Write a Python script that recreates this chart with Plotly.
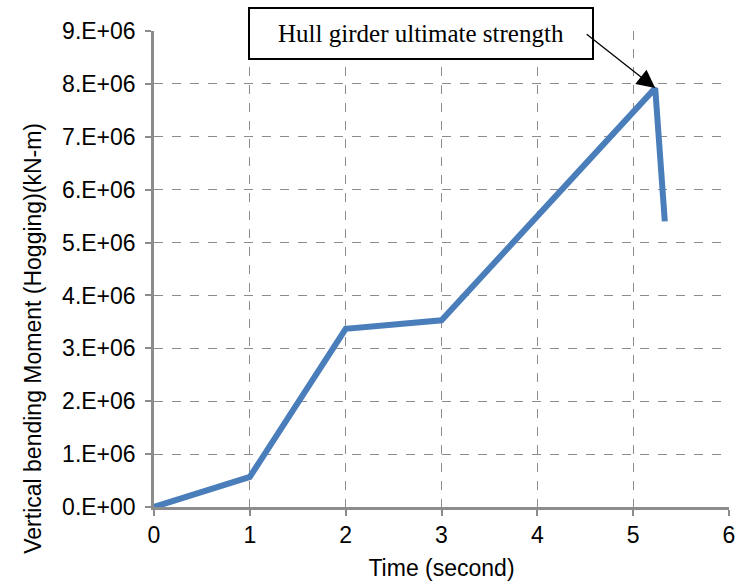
import plotly.graph_objects as go

# Hull girder response over time
time_s = [0.0, 1.0, 2.0, 3.0, 5.23, 5.33]
moment_knm = [0.0, 0.57e6, 3.37e6, 3.53e6, 7.92e6, 5.40e6]

x_ticks = [0, 1, 2, 3, 4, 5, 6]
y_ticks = [0, 1e6, 2e6, 3e6, 4e6, 5e6, 6e6, 7e6, 8e6, 9e6]
y_tick_text = ["0.E+00", "1.E+06", "2.E+06", "3.E+06", "4.E+06",
               "5.E+06", "6.E+06", "7.E+06", "8.E+06", "9.E+06"]

peak_label = "Hull girder ultimate strength"
y_title = "Vertical bending Moment (Hogging)(kN-m)"
peak_idx = 4

fig = go.Figure()
fig.add_trace(go.Scatter(
    x=time_s, y=moment_knm, mode="lines",
    line=dict(color="#4a7ebb", width=6),
    showlegend=False,
))

# Callout box
fig.add_annotation(
    x=0.464, y=0.994, xref="paper", yref="paper",
    text=peak_label, showarrow=False,
    font=dict(family="Liberation Serif", size=25, color="black"),
    bordercolor="black", borderwidth=2, borderpad=0, bgcolor="white",
    width=342, height=49,
    xanchor="center", yanchor="middle",
)
# Leader arrow from the box to the peak
fig.add_annotation(
    x=time_s[peak_idx], y=moment_knm[peak_idx], xref="x", yref="y",
    text="", showarrow=True,
    arrowhead=2, arrowsize=2.8, arrowwidth=1.3, arrowcolor="black",
    ax=-70, ay=-55, standoff=0,
)

# Vertical axis title, set a little below the axis midpoint
fig.add_annotation(
    x=-0.21, y=0.354, xref="paper", yref="paper",
    text=y_title, textangle=-90, showarrow=False,
    font=dict(family="Liberation Sans", size=23, color="black"),
    xanchor="center", yanchor="middle",
)

grid = dict(showgrid=True, gridcolor="#8c8c8c", griddash="dash", gridwidth=1.3)
axis_line = dict(showline=True, linecolor="#8c8c8c", linewidth=2.5,
                 ticks="outside", ticklen=6, tickcolor="#8c8c8c", tickwidth=2,
                 zeroline=False)

fig.update_xaxes(
    range=[0, 6], tickvals=x_ticks, **grid, **axis_line,
    tickfont=dict(family="Liberation Sans", size=23, color="black"),
    title=dict(text="Time (second)", standoff=13,
               font=dict(family="Liberation Sans", size=23, color="black")),
)
fig.update_yaxes(
    range=[0, 9e6], tickvals=y_ticks, ticktext=y_tick_text, **grid, **axis_line,
    ticklabelstandoff=5,
    tickfont=dict(family="Liberation Sans", size=23, color="black"),
)

fig.update_layout(
    width=742, height=584,
    margin=dict(l=154, r=7, t=31, b=76),
    plot_bgcolor="white", paper_bgcolor="white",
)

fig.write_html("out.html")
